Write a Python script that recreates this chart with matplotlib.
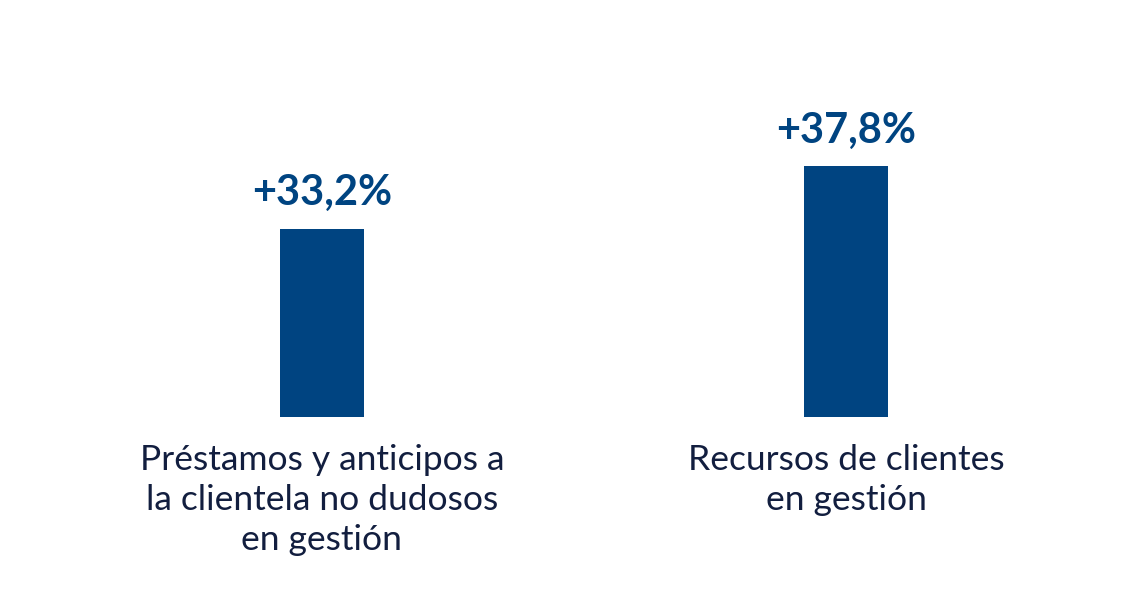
import matplotlib
matplotlib.use("Agg")
import matplotlib.pyplot as plt

categories = ["Préstamos y anticipos a\nla clientela no dudosos\nen gestión",
              "Recursos de clientes\nen gestión"]
values = [33.2, 37.8]
value_labels = ["+33,2%", "+37,8%"]

BAR = "#004481"
TEXT = "#121e3f"

plt.rcParams["font.family"] = ["Lato", "DejaVu Sans"]

fig = plt.figure(figsize=(11.47, 5.94), dpi=100)
fig.patch.set_facecolor("white")
ax = fig.add_axes([59.4 / 1147, (594 - 417.3) / 594, 1049.4 / 1147, 357.3 / 594])
x = list(range(len(values)))
ax.bar(x, values, width=0.16, color=BAR, bottom=0)
ax.set_xlim(-0.5, 1.5)
ax.set_ylim(19.4, 45.6)
ax.axis("off")

for xi, v, lab in zip(x, values, value_labels):
    ax.annotate(lab, (xi, v), xytext=(0, 12), textcoords="offset points",
                ha="center", va="bottom", fontsize=30, fontweight="bold", color=BAR)
for xi, cat in zip(x, categories):
    ax.annotate(cat, (xi, 19.4), xytext=(0, -19), textcoords="offset points",
                ha="center", va="top", fontsize=25.5, color=TEXT, linespacing=1.32)

fig.savefig("out.png", dpi=100, facecolor="white")
